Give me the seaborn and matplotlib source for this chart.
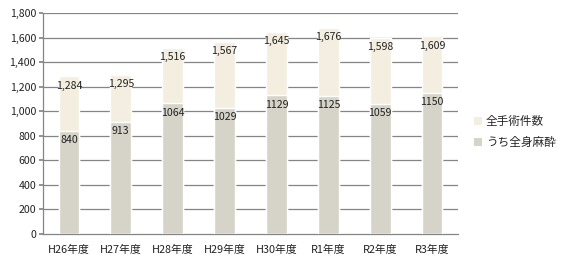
import matplotlib
matplotlib.use("Agg")
import matplotlib.pyplot as plt
import seaborn as sns
import pandas as pd
import numpy as np
from matplotlib.patches import Patch

categories = ["H26年度", "H27年度", "H28年度", "H29年度", "H30年度", "R1年度", "R2年度", "R3年度"]
total_surgeries = [1284, 1295, 1516, 1567, 1645, 1676, 1598, 1609]
general_anesthesia = [840, 913, 1064, 1029, 1129, 1125, 1059, 1150]
total_labels = ["1,284", "1,295", "1,516", "1,567", "1,645", "1,676", "1,598", "1,609"]
ga_labels = ["840", "913", "1064", "1029", "1129", "1125", "1059", "1150"]

sns.set_theme(style="white")
plt.rcParams['font.family'] = ['Noto Sans CJK JP', 'DejaVu Sans']

c_total = "#F4EEE1"
c_ga = "#D6D3C9"
grid_c = "#858585"

df = pd.DataFrame({"cat": categories, "total": total_surgeries, "ga": general_anesthesia})

fig = plt.figure(figsize=(5.62, 2.63), dpi=100)
ax = fig.add_axes([43/562, 1-234/263, (458-43)/562, (234-13)/263])

for t in range(200, 1801, 200):
    ax.axhline(t, color=grid_c, lw=0.9, zorder=0)

sns.barplot(data=df, x="cat", y="total", color=c_total, width=0.4, ax=ax, zorder=2, saturation=1)
sns.barplot(data=df, x="cat", y="ga", color=c_ga, width=0.4, ax=ax, zorder=3, saturation=1)

for i in range(len(categories)):
    ax.text(i, total_surgeries[i] - 75, total_labels[i], ha="center", va="center", fontsize=7.6, color="#222222", zorder=5)
    ax.text(i, general_anesthesia[i] - 75, ga_labels[i], ha="center", va="center", fontsize=7.6, color="#222222", zorder=5)

ax.set_ylim(0, 1800)
ax.set_xlim(-0.5, len(categories) - 0.5)
ax.set_yticks(range(0, 1801, 200))
ax.set_yticklabels([f"{v:,}" for v in range(0, 1801, 200)], fontsize=7.6, color="#222222")
ax.set_xticks(range(len(categories)))
ax.set_xticklabels(categories, fontsize=7.8, color="#222222")
ax.set_xticks(np.arange(-0.5, len(categories), 1), minor=True)
ax.tick_params(axis="x", which="major", length=0, pad=8)
ax.tick_params(axis="x", which="minor", length=3, color=grid_c, direction="out")
ax.tick_params(axis="y", length=3, color=grid_c, direction="out", pad=2, left=True)
ax.set_xlabel("")
ax.set_ylabel("")
for s in ["top", "right"]:
    ax.spines[s].set_visible(False)
for s in ["left", "bottom"]:
    ax.spines[s].set_color(grid_c)
    ax.spines[s].set_linewidth(0.9)

handles = [Patch(facecolor=c_total, edgecolor="none", label="全手術件数"),
           Patch(facecolor=c_ga, edgecolor="none", label="うち全身麻酔")]
fig.legend(handles=handles, loc="center left", bbox_to_anchor=(474/562, 1-132/263), frameon=False,
           borderpad=0, borderaxespad=0,
           fontsize=8.4, handlelength=0.7, handleheight=0.7, handletextpad=0.3, labelspacing=0.7)

fig.savefig("out.png", dpi=100)
